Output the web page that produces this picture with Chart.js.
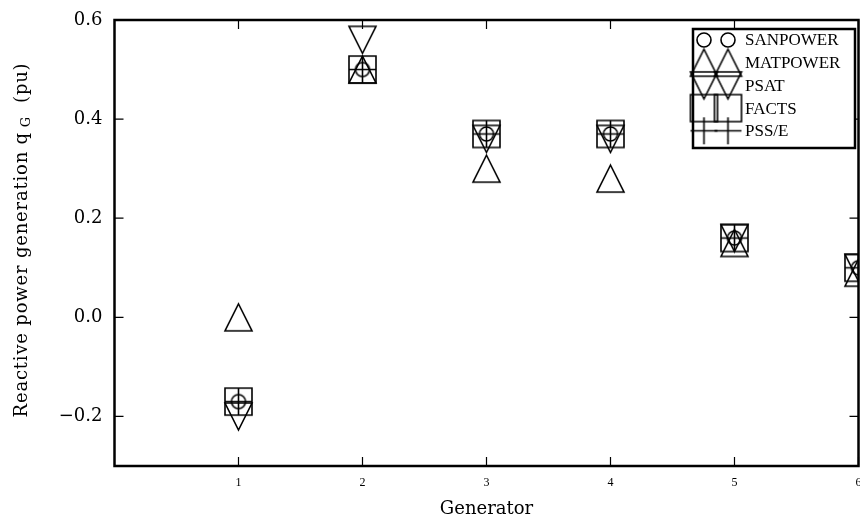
<!DOCTYPE html>
<html>
<head>
<meta charset="utf-8">
<script src="https://cdn.jsdelivr.net/npm/chart.js"></script>
<style>
  html, body { margin: 0; padding: 0; background: #fff; }
  #wrap { width: 860px; height: 524px; }
</style>
</head>
<body>
<div id="wrap"><canvas id="qgChart" width="860" height="524"></canvas></div>
<script>
// reactive power generation per generator, one array per solver
const generators = [1, 2, 3, 4, 5, 6];
const sanpower = [-0.17, 0.50, 0.37, 0.37, 0.16, 0.10];
const matpower = [0.00, 0.50, 0.30, 0.28, 0.15, 0.09];
const psat     = [-0.20, 0.56, 0.36, 0.36, 0.16, 0.10];
const facts    = [-0.17, 0.50, 0.37, 0.37, 0.16, 0.10];
const psse     = [-0.17, 0.50, 0.37, 0.37, 0.16, 0.10];

const seriesNames = ['SANPOWER', 'MATPOWER', 'PSAT', 'FACTS', 'PSS/E'];
const seriesKinds = ['circle', 'up', 'down', 'square', 'plus'];
const seriesValues = [sanpower, matpower, psat, facts, psse];

const xTicks = [1, 2, 3, 4, 5, 6];
const yTicks = [-0.2, 0.0, 0.2, 0.4, 0.6];

const SERIF = '"DejaVu Serif", serif';
const TIMES = '"Liberation Serif", serif';

// hollow black markers, drawn once to small canvases
function makeMarker(kind, size) {
  const pad = 2;
  const c = document.createElement('canvas');
  c.width = c.height = size + pad * 2;
  const g = c.getContext('2d');
  const m = c.width / 2, h = size / 2;
  g.strokeStyle = '#000';
  g.lineWidth = 1.6;
  g.beginPath();
  if (kind === 'circle') {
    g.arc(m, m, h, 0, Math.PI * 2);
  } else if (kind === 'up') {
    g.moveTo(m, m - h); g.lineTo(m + h, m + h); g.lineTo(m - h, m + h); g.closePath();
  } else if (kind === 'down') {
    g.moveTo(m, m + h); g.lineTo(m + h, m - h); g.lineTo(m - h, m - h); g.closePath();
  } else if (kind === 'square') {
    g.rect(m - h, m - h, size, size);
  } else if (kind === 'plus') {
    g.moveTo(m - h, m); g.lineTo(m + h, m);
    g.moveTo(m, m - h); g.lineTo(m, m + h);
  }
  g.stroke();
  return c;
}

const markerSize = { circle: 14, up: 27, down: 27, square: 27, plus: 27 };
const markers = seriesKinds.map(k => makeMarker(k, markerSize[k]));

const datasets = seriesNames.map((name, i) => ({
  label: name,
  data: generators.map((g, j) => ({ x: g, y: seriesValues[i][j] })),
  pointStyle: markers[i],
  pointRadius: 10,
  showLine: false,
  clip: 0
}));

// box frame with inward ticks, plus the boxed legend in the upper right
const framePlugin = {
  id: 'frame',
  afterDatasetsDraw(chart) {
    const { ctx, chartArea: a, scales: { x, y } } = chart;
    ctx.save();
    ctx.strokeStyle = '#000';
    ctx.lineWidth = 1.2;
    ctx.beginPath();
    xTicks.forEach(v => {
      const px = x.getPixelForValue(v);
      ctx.moveTo(px, a.bottom); ctx.lineTo(px, a.bottom - 9);
      ctx.moveTo(px, a.top); ctx.lineTo(px, a.top + 9);
    });
    yTicks.forEach(v => {
      const py = y.getPixelForValue(v);
      ctx.moveTo(a.left, py); ctx.lineTo(a.left + 9, py);
      ctx.moveTo(a.right, py); ctx.lineTo(a.right - 9, py);
    });
    ctx.stroke();

    // legend
    const lx = 693, ly = 29, lw = 162, lh = 119;
    ctx.fillStyle = '#fff';
    ctx.fillRect(lx, ly, lw, lh);
    ctx.lineWidth = 2.5;
    ctx.strokeRect(lx, ly, lw, lh);
    ctx.font = '17px ' + TIMES;
    ctx.fillStyle = '#000';
    ctx.textBaseline = 'middle';
    seriesNames.forEach((name, i) => {
      const ry = 40 + i * 22.7;
      [704, 728].forEach(mx => {
        const mk = markers[i];
        ctx.drawImage(mk, mx - mk.width / 2, ry - mk.height / 2);
      });
      ctx.fillText(name, 745, ry + 1);
    });

    // outer frame
    ctx.lineWidth = 2.5;
    ctx.strokeRect(a.left, a.top, a.right - a.left, a.bottom - a.top);

    // y axis title with subscript G
    ctx.translate(22, 240);
    ctx.rotate(-Math.PI / 2);
    ctx.letterSpacing = '0.8px';
    const main = 'Reactive power generation q';
    const tail = '  (pu)';
    ctx.font = '18px ' + SERIF;
    const w1 = ctx.measureText(main).width;
    const w3 = ctx.measureText(tail).width;
    ctx.font = '13px ' + SERIF;
    const w2 = ctx.measureText(' G').width;
    let sx = -(w1 + w2 + w3) / 2;
    ctx.textBaseline = 'alphabetic';
    ctx.textAlign = 'left';
    ctx.font = '18px ' + SERIF;
    ctx.fillText(main, sx, 5);
    sx += w1;
    ctx.font = '13px ' + SERIF;
    ctx.fillText(' G', sx, 8);
    sx += w2;
    ctx.font = '18px ' + SERIF;
    ctx.fillText(tail, sx, 5);
    ctx.restore();
  }
};

const fmt = v => (v < 0 ? '\u2212' : '') + Math.abs(v).toFixed(1);

new Chart(document.getElementById('qgChart').getContext('2d'), {
  type: 'scatter',
  data: { datasets },
  options: {
    responsive: false,
    animation: false,
    events: [],
    layout: { autoPadding: false, padding: { top: 20, right: 1.5, left: 0, bottom: 0 } },
    plugins: { legend: { display: false }, tooltip: { enabled: false } },
    scales: {
      x: {
        type: 'linear', min: 0, max: 6,
        afterBuildTicks: s => { s.ticks = xTicks.map(v => ({ value: v })); },
        afterFit: s => { s.height = 58; s.paddingLeft = 0; s.paddingRight = 0; },
        grid: { display: false, drawTicks: false },
        border: { display: false },
        ticks: { color: '#000', padding: 10, maxRotation: 0, font: { family: TIMES, size: 12 } },
        title: { display: true, text: 'Generator', color: '#000', padding: { top: 0, bottom: 4 }, font: { family: SERIF, size: 18 } }
      },
      y: {
        type: 'linear', min: -0.3, max: 0.6,
        afterBuildTicks: s => { s.ticks = yTicks.map(v => ({ value: v })); },
        afterFit: s => { s.width = 114.5; s.paddingTop = 0; s.paddingBottom = 0; },
        grid: { display: false, drawTicks: false },
        border: { display: false },
        ticks: { color: '#000', padding: 12, callback: fmt, font: { family: SERIF, size: 18 } }
      }
    }
  },
  plugins: [framePlugin]
});
</script>
</body>
</html>
